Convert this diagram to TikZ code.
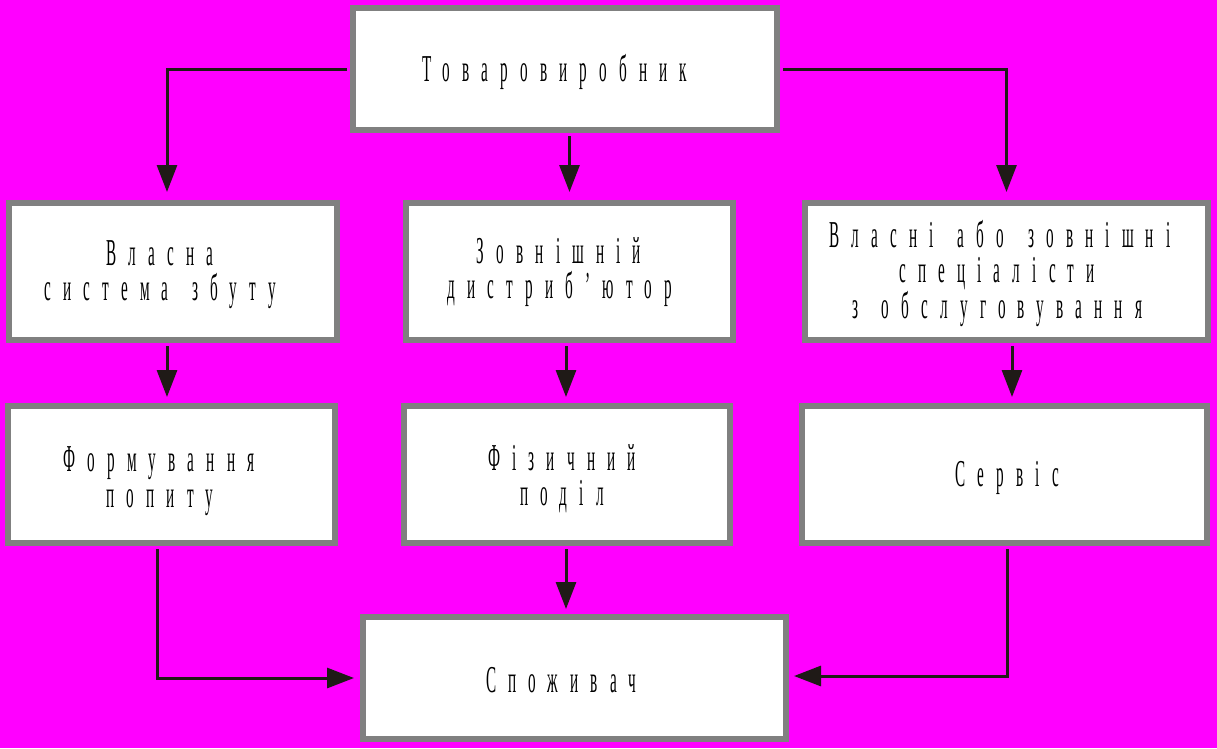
\documentclass[tikz,border=0pt]{standalone}
\usepackage{fontspec}
\usetikzlibrary{arrows.meta}
\newfontfamily\cf[FakeStretch=0.4,LetterSpace=32,WordSpace=1.5]{Liberation Serif}
\definecolor{bgmag}{RGB}{255,0,255}
\definecolor{bordgray}{RGB}{128,128,128}
\definecolor{arrblack}{RGB}{31,26,23}
\begin{document}
\begin{tikzpicture}[x=1pt,y=-1pt,
  box/.style={draw=bordgray,fill=white,line width=6pt,inner sep=0pt,rectangle},
  lbl/.style={inner sep=0pt,anchor=base,text height=24pt,text depth=6pt,font=\cf\fontsize{38}{40}\selectfont,text=black},
  arr/.style={draw=arrblack,line width=3pt,-{Triangle[length=27pt,width=20pt]}}]
\useasboundingbox (0,0) rectangle (1217,748);
\fill[bgmag] (0,0) rectangle (1217,748);
% boxes
\node[box,minimum width=424pt,minimum height=122pt] (top) at (565,69) {};
\node[box,minimum width=328pt,minimum height=137pt] (L1) at (173,271.5) {};
\node[box,minimum width=327pt,minimum height=137pt] (L2) at (171.5,474.5) {};
\node[box,minimum width=327pt,minimum height=137pt] (M1) at (569.5,271.5) {};
\node[box,minimum width=326pt,minimum height=137pt] (M2) at (567,474.5) {};
\node[box,minimum width=403pt,minimum height=137pt] (R1) at (1006.5,271.5) {};
\node[box,minimum width=405pt,minimum height=137pt] (R2) at (1004.5,474.5) {};
\node[box,minimum width=423pt,minimum height=122pt] (bot) at (574.5,678) {};
% labels
\node[lbl] (ttop) at (555,81) {Товаровиробник};
\node[lbl] (tL1a) at (160,265) {Власна};
\node[lbl] (tL1b) at (160,300) {система збуту};
\node[lbl] (tL2a) at (159,471) {Формування};
\node[lbl] (tL2b) at (160,507) {попиту};
\node[lbl] (tM1a) at (559,263) {Зовнішній};
\node[lbl] (tM1b) at (560,298) {дистриб’ютор};
\node[lbl] (tM2a) at (562,470) {Фізичний};
\node[lbl] (tM2b) at (562,505) {поділ};
\node[lbl] (tR1a) at (1000,247) {Власні або зовнішні};
\node[lbl] (tR1b) at (997,282) {спеціалісти};
\node[lbl] (tR1c) at (997,318) {з обслуговування};
\node[lbl] (tR2) at (1007,486) {Сервіс};
\node[lbl] (tbot) at (561,692) {Споживач};
% connectors
\draw[arr,shorten <=3pt,shorten >=8pt] (top.west) -| ([xshift=-6pt]L1.north);
\draw[arr,shorten <=3pt,shorten >=8pt] (M1.north |- top.south) -- (M1.north);
\draw[arr,shorten <=3pt,shorten >=8pt] (top.east) -| (R1.north);
\draw[arr,shorten <=3pt,shorten >=6pt] ([xshift=-6pt]L1.south) -- ([xshift=-6pt]L1.south |- L2.north);
\draw[arr,shorten <=3pt,shorten >=6pt] ([xshift=-3.5pt]M1.south) -- ([xshift=-3.5pt]M1.south |- M2.north);
\draw[arr,shorten <=3pt,shorten >=6pt] ([xshift=5.5pt]R1.south) -- ([xshift=5.5pt]R1.south |- R2.north);
\draw[arr,shorten <=3pt,shorten >=6pt] ([xshift=-14.5pt]L2.south) |- (bot.west);
\draw[arr,shorten <=3pt,shorten >=5pt] ([xshift=-1pt]M2.south) -- ([xshift=-1pt]M2.south |- bot.north);
\draw[arr,shorten <=3pt,shorten >=5pt] ([xshift=2.5pt]R2.south) |- ([yshift=2pt]bot.east);
\end{tikzpicture}
\end{document}
